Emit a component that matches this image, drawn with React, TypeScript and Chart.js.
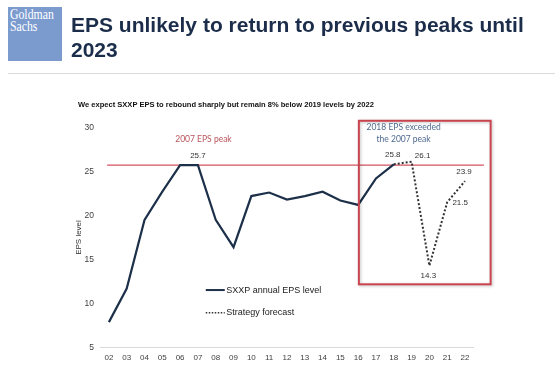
import React, { useEffect, useRef } from 'react';
import { Chart, registerables } from 'chart.js';

Chart.register(...registerables);

const CATEGORIES = ['02', '03', '04', '05', '06', '07', '08', '09', '10', '11', '12', '13', '14', '15', '16', '17', '18', '19', '20', '21', '22'];
const ACTUAL = [7.9, 11.7, 19.5, 22.7, 25.7, 25.7, 19.5, 16.4, 22.2, 22.6, 21.8, 22.2, 22.7, 21.7, 21.2, 24.2, 25.8, null, null, null, null];
const FORECAST = [null, null, null, null, null, null, null, null, null, null, null, null, null, null, null, null, 25.8, 26.1, 14.3, 21.5, 23.9];
const PEAK_2007 = 25.7;
const Y_MIN = 5;
const Y_MAX = 30;
const Y_STEP = 5;
const SERIES_NAMES = ['SXXP annual EPS level', 'Strategy forecast'];
const LABELED_ACTUAL = [5, 16];
const LABELED_FORECAST = [17, 18, 19, 20];

const NAVY = '#1d3049';
const DOT = '#333333';
const SANS = '"Liberation Sans", Arial, sans-serif';

const overlayPlugin = {
  id: 'overlay',
  beforeDatasetsDraw(chart: any) {
    const { ctx } = chart;
    const x = chart.scales.x;
    const y = chart.scales.y;
    ctx.save();
    const py = y.getPixelForValue(PEAK_2007);
    ctx.strokeStyle = '#d2525e';
    ctx.lineWidth = 1.3;
    ctx.beginPath();
    ctx.moveTo(x.getPixelForValue(-0.1), py);
    ctx.lineTo(x.getPixelForValue(21.06), py);
    ctx.stroke();
    ctx.restore();
  },
  afterDatasetsDraw(chart: any) {
    const { ctx } = chart;
    const x = chart.scales.x;
    const y = chart.scales.y;
    ctx.save();

    // red box
    const bl = x.getPixelForValue(14.04);
    const br = x.getPixelForValue(21.44);
    const bt = y.getPixelForValue(30.74);
    const bb = y.getPixelForValue(12.19);
    ctx.shadowColor = 'rgba(0,0,0,0.25)';
    ctx.shadowBlur = 3;
    ctx.shadowOffsetX = 1;
    ctx.shadowOffsetY = 1;
    ctx.strokeStyle = '#c9444e';
    ctx.lineWidth = 2;
    ctx.strokeRect(bl, bt, br - bl, bb - bt);
    ctx.shadowColor = 'transparent';

    // annotations
    ctx.textAlign = 'center';
    ctx.textBaseline = 'middle';
    ctx.font = '8.5px Lato, "Open Sans", sans-serif';
    ctx.fillStyle = '#b9545c';
    ctx.fillText('2007 EPS peak', x.getPixelForValue(5.31), y.getPixelForValue(28.63));
    ctx.fillStyle = '#4e6a8f';
    ctx.fillText('2018 EPS exceeded', x.getPixelForValue(16.55), y.getPixelForValue(29.99));
    ctx.fillText('the 2007 peak', x.getPixelForValue(16.55), y.getPixelForValue(28.66));

    // value labels
    ctx.font = '8px ' + SANS;
    ctx.fillStyle = '#333333';
    const offsA: Record<number, [number, number]> = { 5: [0, -9], 16: [-1, -10] };
    LABELED_ACTUAL.forEach((i) => {
      const v = ACTUAL[i] as number;
      const o = offsA[i] || [0, -9];
      ctx.fillText(v.toFixed(1), x.getPixelForValue(i) + o[0], y.getPixelForValue(v) + o[1]);
    });
    const offsF: Record<number, [number, number]> = { 17: [11, -6], 18: [-1, 10], 19: [13, 1], 20: [-1, -9] };
    LABELED_FORECAST.forEach((i) => {
      const v = FORECAST[i] as number;
      const o = offsF[i] || [0, -9];
      ctx.fillText(v.toFixed(1), x.getPixelForValue(i) + o[0], y.getPixelForValue(v) + o[1]);
    });

    // legend
    const lx0 = x.getPixelForValue(5.44);
    const lx1 = lx0 + 19;
    const ly1 = y.getPixelForValue(11.54);
    const ly2 = y.getPixelForValue(8.97);
    ctx.lineWidth = 2;
    ctx.strokeStyle = NAVY;
    ctx.beginPath();
    ctx.moveTo(lx0, ly1);
    ctx.lineTo(lx1, ly1);
    ctx.stroke();
    ctx.strokeStyle = DOT;
    ctx.setLineDash([1.5, 1.5]);
    ctx.lineWidth = 1.5;
    ctx.beginPath();
    ctx.moveTo(lx0, ly2);
    ctx.lineTo(lx1, ly2);
    ctx.stroke();
    ctx.setLineDash([]);
    ctx.textAlign = 'left';
    ctx.font = '9px ' + SANS;
    ctx.fillStyle = '#222222';
    ctx.fillText(SERIES_NAMES[0], lx1 + 1.5, ly1);
    ctx.fillText(SERIES_NAMES[1], lx1 + 1.5, ly2);

    ctx.restore();
  },
};

export default function App() {
  const ref = useRef<HTMLCanvasElement>(null);

  useEffect(() => {
    const chart = new Chart(ref.current as HTMLCanvasElement, {
      type: 'line',
      data: {
        labels: CATEGORIES,
        datasets: [
          {
            label: SERIES_NAMES[0],
            data: ACTUAL,
            borderColor: NAVY,
            backgroundColor: NAVY,
            borderWidth: 2.2,
            pointRadius: 0,
            tension: 0,
          },
          {
            label: SERIES_NAMES[1],
            data: FORECAST,
            borderColor: DOT,
            backgroundColor: DOT,
            borderWidth: 2,
            borderDash: [2, 2],
            pointRadius: 0,
            tension: 0,
          },
        ],
      },
      options: {
        responsive: false,
        animation: false,
        layout: { padding: { left: 73.4, right: 86.1, top: 127.3, bottom: 0 } },
        plugins: { legend: { display: false }, tooltip: { enabled: false } },
        scales: {
          x: {
            offset: true,
            grid: { drawOnChartArea: false, drawTicks: false },
            border: { color: '#d9d9d9', width: 1 },
            ticks: { color: '#404040', font: { family: SANS, size: 8 }, padding: 5, maxRotation: 0, autoSkip: false },
            afterFit: (s: any) => {
              s.height = 20.3;
            },
          },
          y: {
            min: Y_MIN,
            max: Y_MAX,
            grid: { drawOnChartArea: false, drawTicks: false },
            border: { display: false },
            ticks: { stepSize: Y_STEP, color: '#404040', font: { family: SANS, size: 8.5 }, padding: 6 },
            title: {
              display: true,
              text: 'EPS level',
              color: '#333333',
              font: { family: SANS, size: 8 },
              padding: { top: 1, bottom: 0 },
            },
            afterFit: (s: any) => {
              s.width = 26.6;
            },
          },
        },
      },
      plugins: [overlayPlugin],
    });
    return () => chart.destroy();
  }, []);

  return (
    <div style={{ position: 'fixed', left: 0, top: 0, width: 560, height: 368, background: '#ffffff', overflow: 'hidden' }}>
      <canvas ref={ref} width={560} height={368} style={{ position: 'absolute', left: 0, top: 0, width: 560, height: 368 }} />
      <div style={{ position: 'absolute', left: 8, top: 6.7, width: 54, height: 54.3, background: '#7b9bcf' }} />
      <div style={{ position: 'absolute', left: 10, top: 8, color: '#ffffff', fontFamily: '"Liberation Serif", serif', fontSize: 14, lineHeight: '10px', whiteSpace: 'nowrap', transform: 'scaleX(0.84)', transformOrigin: 'left top' }}>
        <div style={{ height: 10, paddingTop: 2 }}>Goldman</div>
        <div style={{ height: 10, paddingTop: 2 }}>Sachs</div>
      </div>
      <div style={{ position: 'absolute', left: 71, top: 11.9, color: '#1b2d4a', fontFamily: SANS, fontWeight: 'bold', fontSize: 21, lineHeight: '25px', whiteSpace: 'nowrap' }}>
        EPS unlikely to return to previous peaks until
        <br />
        2023
      </div>
      <div style={{ position: 'absolute', left: 8, top: 72.5, width: 547, height: 1, background: '#dadada' }} />
      <div style={{ position: 'absolute', left: 78, top: 100, color: '#111111', fontFamily: SANS, fontWeight: 'bold', fontSize: 7.55, lineHeight: '10px', whiteSpace: 'nowrap' }}>
        We expect SXXP EPS to rebound sharply but remain 8% below 2019 levels by 2022
      </div>
    </div>
  );
}
